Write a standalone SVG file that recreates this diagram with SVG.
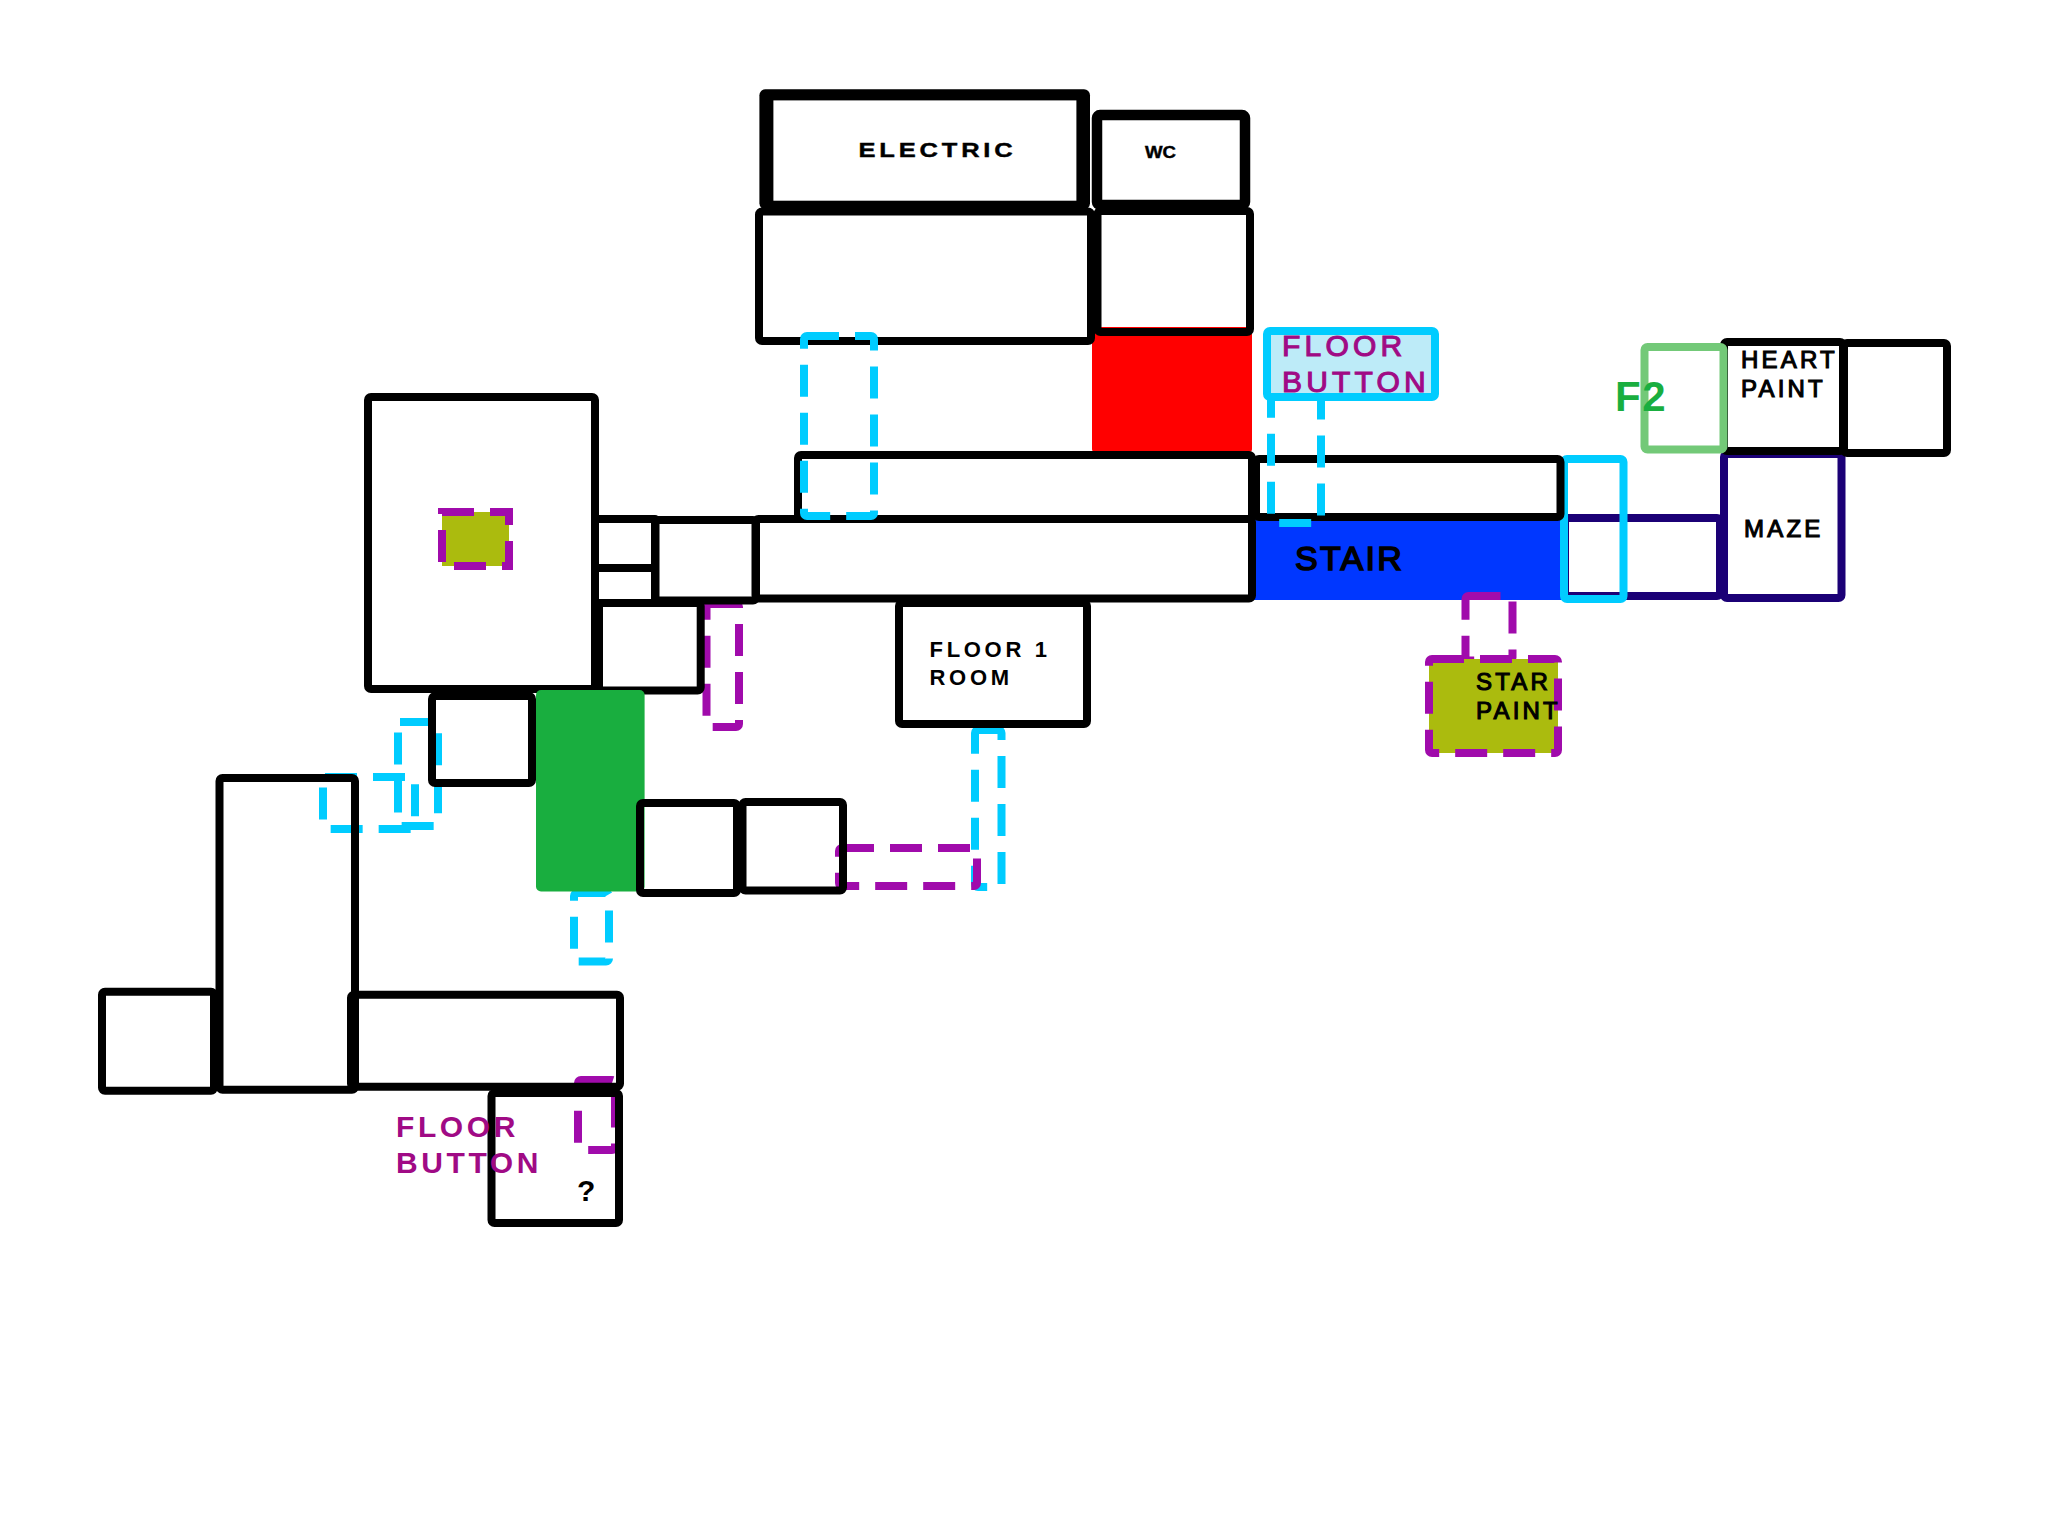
<svg xmlns="http://www.w3.org/2000/svg" width="2048" height="1536" viewBox="0 0 2048 1536">
<style>
rect{fill:none;stroke-linejoin:round}
.k{stroke:#000;stroke-width:8}
.c{stroke:#00CCFF;stroke-width:8;stroke-dasharray:32 16}
.p{stroke:#A00BAB;stroke-width:8;stroke-dasharray:32 16}
.cs{stroke:#00CCFF;stroke-width:8}
.in{stroke:#1B0076;stroke-width:8}
text{font-family:"Liberation Sans",Arial,sans-serif;font-weight:bold;fill:#000;letter-spacing:3px}
.fb{font-size:30px;fill:#A00A85;letter-spacing:3.6px}
.r{font-weight:normal;stroke:#000;stroke-width:1.1px;font-size:24px;letter-spacing:3.200px}
</style>
<rect width="2048" height="1536" style="fill:#fff"/>
<g id="connectors-under">
<rect class="c" x="398" y="722" width="40" height="104" rx="2"/>
<rect class="c" x="323" y="777" width="92" height="52" rx="2"/>
<rect class="c" x="574" y="893" width="35" height="68.500" rx="3"/>
<rect class="c" x="975" y="730" width="26.500" height="157" rx="3"/>
<rect class="p" x="839" y="848" width="138" height="38" rx="3"/>
<rect class="p" x="706.500" y="604" width="32.500" height="123" rx="3"/>
<rect class="p" x="578" y="1080" width="37" height="70" rx="3"/>
</g>
<g id="red-room"><rect x="1092" y="327" width="160" height="125" rx="3" style="fill:#FF0000"/></g>
<g id="stair"><rect x="1254" y="518" width="310" height="82" style="fill:#0037FF"/>
<text x="1295" y="570" class="r" style="font-size:34px;letter-spacing:2.300px;stroke-width:1.600px">STAIR</text></g>
<g id="electric"><rect x="759.400" y="89.300" width="330.600" height="120" rx="6" style="fill:#000"/><rect x="773.400" y="100.400" width="303" height="100.300" style="fill:#fff"/>
<text x="858.500" y="156.500" textLength="158" lengthAdjust="spacingAndGlyphs" style="font-size:20px;stroke:#000;stroke-width:.4px">ELECTRIC</text></g>
<g id="wc"><rect class="k" x="1097" y="115" width="148" height="90" rx="3" style="stroke-width:10.500"/>
<text x="1145" y="158" textLength="31" lengthAdjust="spacingAndGlyphs" style="font-size:16px;letter-spacing:0;stroke:#000;stroke-width:.4px">WC</text></g>
<g id="room-a"><rect class="k" x="759" y="211.500" width="332" height="129.500" rx="3"/></g>
<g id="room-b"><rect class="k" x="1097.500" y="211" width="152.500" height="121" rx="3"/></g>
<g id="hall-1"><rect class="k" x="798" y="455" width="454" height="64" rx="3"/></g>
<g id="hall-2"><rect class="k" x="755.500" y="519" width="496.500" height="79.500" rx="3"/></g>
<g id="indigo-strip"><rect class="in" x="1565" y="518" width="155" height="78" rx="3"/></g>
<g id="cyan-box"><rect class="cs" x="1564" y="459" width="59.500" height="140" rx="3"/></g>
<g id="hall-3"><rect class="k" x="1256" y="459" width="304.500" height="58" rx="3"/></g>
<g id="connectors-over">
<rect class="c" x="804" y="336" width="70" height="180" rx="3"/>
<rect class="c" x="1271" y="337" width="50" height="186" rx="3"/>
<rect class="p" x="1465.500" y="596" width="47" height="64.500" rx="3"/>
</g>
<g id="floor-button-box"><rect x="1267" y="331" width="168" height="66" rx="3" class="cs" style="fill:#BDEBF8"/>
<text class="fb" x="1282" y="355.700" style="font-weight:normal;stroke:#A00A85;stroke-width:1.100px;letter-spacing:4.200px">FLOOR</text><text class="fb" x="1282" y="392.300" style="font-weight:normal;stroke:#A00A85;stroke-width:1.100px;letter-spacing:4.200px">BUTTON</text></g>
<g id="maze"><rect class="in" x="1724" y="454" width="117.500" height="144" rx="3"/>
<text x="1744" y="536.700" class="r">MAZE</text></g>
<g id="heart-paint"><rect class="k" x="1724" y="342" width="119" height="109" rx="3"/>
<text x="1741" y="368.300" class="r">HEART</text><text x="1741" y="397.300" class="r">PAINT</text></g>
<g id="room-east"><rect class="k" x="1844" y="343" width="103" height="110" rx="3"/></g>
<g id="f2"><rect x="1644.500" y="347" width="79" height="102.500" rx="3" style="stroke:#73C978;stroke-width:8"/>
<text x="1615" y="410.700" style="font-size:42px;fill:#19AE3F;letter-spacing:1.500px">F2</text></g>
<g id="star-paint"><rect x="1429" y="659" width="129" height="94" style="fill:#ABBB0E"/><rect class="p" x="1429" y="659" width="129" height="94" rx="3"/>
<text x="1476" y="690" class="r">STAR</text><text x="1476" y="719" class="r">PAINT</text></g>
<g id="big-room"><rect class="k" x="368" y="397" width="227" height="292" rx="3"/>
<rect x="442" y="512" width="67" height="54" style="fill:#ABBB0E"/><rect class="p" x="442" y="512" width="67" height="54" style="stroke-linejoin:miter"/></g>
<g id="small-a"><rect class="k" x="595" y="519" width="60" height="49"/></g>
<g id="small-b"><rect class="k" x="595" y="568" width="60" height="35"/></g>
<g id="small-c"><rect class="k" x="655.500" y="520" width="100.500" height="80.500" rx="3"/></g>
<g id="small-d"><rect class="k" x="599" y="603" width="101.700" height="87.500" rx="3"/></g>
<g id="small-e"><rect class="k" x="432" y="696" width="100" height="87" rx="3"/></g>
<g id="green-room"><rect x="536" y="690" width="108.600" height="201.500" rx="5" style="fill:#19AE3F"/></g>
<g id="small-f"><rect class="k" x="640" y="803" width="97" height="90" rx="3"/></g>
<g id="small-g"><rect class="k" x="742.500" y="802" width="100.500" height="88.500" rx="3"/></g>
<g id="floor-1-room"><rect class="k" x="899" y="603" width="188" height="121" rx="3"/>
<text x="929.500" y="656.700" style="font-size:22px;letter-spacing:3.700px">FLOOR 1</text><text x="929.500" y="685" style="font-size:22px;letter-spacing:3.700px">ROOM</text></g>
<g id="tall-room"><rect class="k" x="219.500" y="778" width="135.500" height="311.700" rx="3"/></g>
<g id="west-room"><rect class="k" x="102" y="991.700" width="112" height="99" rx="3"/></g>
<g id="south-hall"><rect class="k" x="351" y="994.700" width="269" height="92" rx="3"/></g>
<g id="question-room"><rect class="k" x="491.500" y="1093" width="127.500" height="130" rx="3"/>
<text x="577" y="1201" style="font-size:30px;letter-spacing:0">?</text></g>
<g id="floor-button-label"><text class="fb" x="396" y="1137">FLOOR</text><text class="fb" x="396" y="1173">BUTTON</text></g>
</svg>
